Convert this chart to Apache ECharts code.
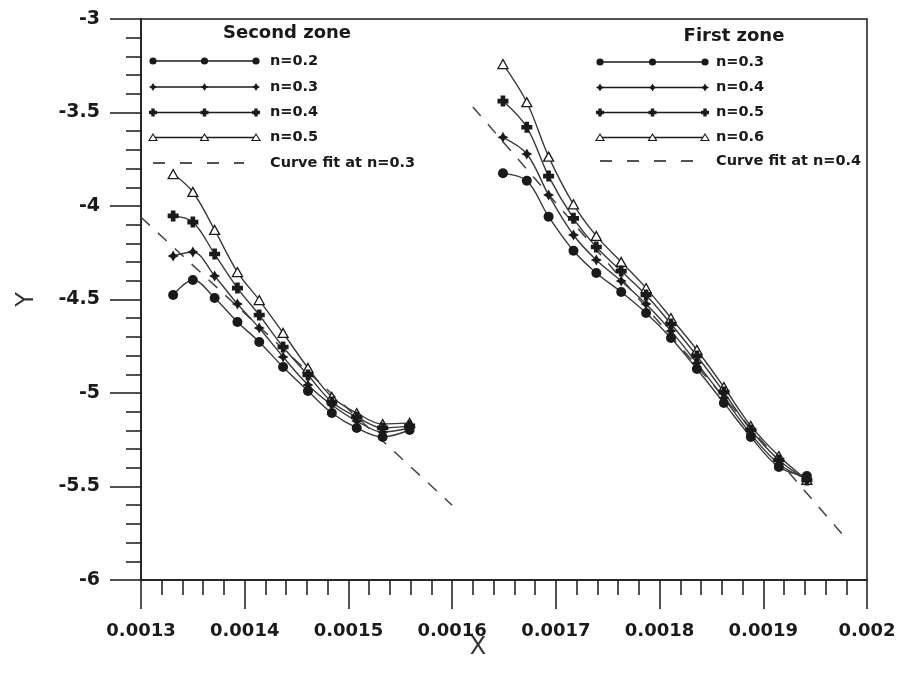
<!DOCTYPE html>
<html>
<head>
<meta charset="utf-8">
<title>Y versus X, first and second zones</title>
<script src="https://cdn.jsdelivr.net/npm/echarts@6/dist/echarts.min.js"></script>
<style>
  html, body { margin: 0; padding: 0; background: #fff; }
  #chart { width: 901px; height: 685px; }
</style>
</head>
<body>
<div id="chart"></div>
<script>
// ---- data ----
const xTickLabels = ['0.0013', '0.0014', '0.0015', '0.0016', '0.0017', '0.0018', '0.0019', '0.002'];
const yTickLabels = ['-6', '-5.5', '-5', '-4.5', '-4', '-3.5', '-3'];

// second zone
const xSecond = [0.001331, 0.001350, 0.001371, 0.001393, 0.001414, 0.001437, 0.001461, 0.001484, 0.001508, 0.001533, 0.001559];
const ySecondN02 = [-4.476, -4.396, -4.492, -4.620, -4.727, -4.861, -4.989, -5.107, -5.187, -5.235, -5.198];
const ySecondN03 = [-4.267, -4.246, -4.374, -4.524, -4.652, -4.807, -4.957, -5.064, -5.150, -5.209, -5.187];
const ySecondN04 = [-4.053, -4.086, -4.257, -4.439, -4.583, -4.754, -4.904, -5.048, -5.128, -5.187, -5.176];
const ySecondN05 = [-3.829, -3.925, -4.128, -4.353, -4.503, -4.679, -4.866, -5.021, -5.107, -5.166, -5.160];
const fitSecondX = [0.0013, 0.0016];
const fitSecondY = [-4.06, -5.60];

// first zone
const xFirst = [0.001649, 0.001672, 0.001693, 0.001717, 0.001739, 0.001763, 0.001787, 0.001811, 0.001836, 0.001862, 0.001888, 0.001915, 0.001942];
const yFirstN03 = [-3.825, -3.865, -4.057, -4.239, -4.358, -4.460, -4.572, -4.706, -4.872, -5.053, -5.235, -5.396, -5.444];
const yFirstN04 = [-3.633, -3.722, -3.941, -4.155, -4.289, -4.401, -4.524, -4.668, -4.840, -5.027, -5.219, -5.380, -5.460];
const yFirstN05 = [-3.439, -3.579, -3.840, -4.066, -4.219, -4.348, -4.476, -4.631, -4.802, -4.995, -5.198, -5.358, -5.465];
const yFirstN06 = [-3.241, -3.445, -3.736, -3.991, -4.160, -4.299, -4.439, -4.599, -4.770, -4.968, -5.176, -5.337, -5.465];
const fitFirstX = [0.00162, 0.00198];
const fitFirstY = [-3.47, -5.78];

// ---- styling ----
const INK = '#1a1a1a';
const LINE = '#3a3a3a';
const FONT = '"DejaVu Sans", "Liberation Sans", sans-serif';
const X_MIN = 0.0013, X_MAX = 0.002, X_STEP = 0.0001;
const Y_MIN = -6, Y_MAX = -3, Y_STEP = 0.5;

// marker outlines in a 10x10 box
const STAR_PTS = [[5,0],[6.8,3.2],[10,5],[6.8,6.8],[5,10],[3.2,6.8],[0,5],[3.2,3.2]];
const PLUS_PTS = [[2.9,0],[7.1,0],[7.1,2.9],[10,2.9],[10,7.1],[7.1,7.1],[7.1,10],[2.9,10],[2.9,7.1],[0,7.1],[0,2.9],[2.9,2.9]];
const toPath = pts => 'path://M' + pts.map(p => p.join(',')).join('L') + 'Z';

const MARK = {
  circle: { symbol: 'circle', size: 10, item: { color: INK } },
  star:   { symbol: toPath(STAR_PTS), size: 11, item: { color: INK } },
  plus:   { symbol: toPath(PLUS_PTS), size: 11, item: { color: INK } },
  tri:    { symbol: 'triangle', size: [10, 9], item: { color: '#fff', borderColor: INK, borderWidth: 1.3 } }
};

const zip = (xs, ys) => xs.map((x, i) => [x, ys[i]]);

function curve(name, xs, ys, kind) {
  const m = MARK[kind];
  return {
    type: 'line', name: name, data: zip(xs, ys),
    smooth: 0.35, showAllSymbol: true,
    symbol: m.symbol, symbolSize: m.size,
    lineStyle: { color: LINE, width: 1.4 },
    itemStyle: m.item,
    z: 3
  };
}

function fit(name, xs, ys) {
  return {
    type: 'line', name: name, data: zip(xs, ys),
    symbol: 'none',
    lineStyle: { color: '#444', width: 1.5, type: [12, 11] },
    z: 2
  };
}

// ---- legend blocks drawn as graphics ----
function legendMark(kind, cx, cy) {
  const s = 8;
  if (kind === 'circle') {
    return { type: 'circle', shape: { cx: cx, cy: cy, r: 3.6 }, style: { fill: INK } };
  }
  if (kind === 'tri') {
    return { type: 'polygon', shape: { points: [[cx, cy - 3.5], [cx + 4, cy + 3], [cx - 4, cy + 3]] },
             style: { fill: '#fff', stroke: INK, lineWidth: 1.1 } };
  }
  const pts = (kind === 'star' ? STAR_PTS : PLUS_PTS).map(p => [cx + (p[0] - 5) * s / 10, cy + (p[1] - 5) * s / 10]);
  return { type: 'polygon', shape: { points: pts }, style: { fill: INK } };
}

function legendBlock(title, titleX, titleY, x0, x1, textX, rows, fitLabel, rowYs) {
  const els = [];
  els.push({ type: 'text', x: titleX, y: titleY,
             style: { text: title, font: 'bold 18px ' + FONT, fill: INK, align: 'center', verticalAlign: 'middle' } });
  rows.forEach((r, i) => {
    const y = rowYs[i];
    els.push({ type: 'line', shape: { x1: x0, y1: y, x2: x1, y2: y }, style: { stroke: INK, lineWidth: 1.5 } });
    [x0, (x0 + x1) / 2, x1].forEach(cx => els.push(legendMark(r.kind, cx, y)));
    els.push({ type: 'text', x: textX, y: y,
               style: { text: r.label, font: 'bold 14.5px ' + FONT, fill: INK, align: 'left', verticalAlign: 'middle' } });
  });
  const fy = rowYs[rows.length];
  els.push({ type: 'line', shape: { x1: x0, y1: fy, x2: x1 - 12, y2: fy },
             style: { stroke: INK, lineWidth: 1.5, lineDash: [12, 15] } });
  els.push({ type: 'text', x: textX, y: fy,
             style: { text: fitLabel, font: 'bold 14.5px ' + FONT, fill: INK, align: 'left', verticalAlign: 'middle' } });
  return els;
}

const secondRows = [
  { label: 'n=0.2', kind: 'circle' },
  { label: 'n=0.3', kind: 'star' },
  { label: 'n=0.4', kind: 'plus' },
  { label: 'n=0.5', kind: 'tri' }
];
const firstRows = [
  { label: 'n=0.3', kind: 'circle' },
  { label: 'n=0.4', kind: 'star' },
  { label: 'n=0.5', kind: 'plus' },
  { label: 'n=0.6', kind: 'tri' }
];

const chart = echarts.init(document.getElementById('chart'), null, { renderer: 'canvas' });

chart.setOption({
  animation: false,
  backgroundColor: '#fff',
  grid: { left: 141, right: 34, top: 19, bottom: 105, show: true, borderColor: INK, borderWidth: 1.5, backgroundColor: 'transparent' },
  xAxis: {
    type: 'value', min: X_MIN, max: X_MAX, interval: X_STEP,
    axisLine: { show: true, onZero: false, lineStyle: { color: INK, width: 1.5 } },
    axisTick: { show: true, inside: false, length: 29, lineStyle: { color: INK, width: 1.5 } },
    minorTick: { show: true, splitNumber: 5, length: 15, lineStyle: { color: INK, width: 1.5 } },
    splitLine: { show: false },
    axisLabel: {
      margin: 42, color: INK, fontFamily: FONT, fontWeight: 'bold', fontSize: 18,
      formatter: v => xTickLabels[Math.round((v - X_MIN) / X_STEP)]
    }
  },
  yAxis: {
    type: 'value', min: Y_MIN, max: Y_MAX, interval: Y_STEP,
    name: 'Y', nameLocation: 'middle', nameGap: 102,
    nameTextStyle: { color: '#333', fontFamily: FONT, fontSize: 24 },
    axisLine: { show: true, onZero: false, lineStyle: { color: INK, width: 1.5 } },
    axisTick: { show: true, inside: false, length: 31, lineStyle: { color: INK, width: 1.5 } },
    minorTick: { show: true, splitNumber: 5, length: 15, lineStyle: { color: INK, width: 1.5 } },
    splitLine: { show: false },
    axisLabel: {
      margin: 41, color: INK, fontFamily: FONT, fontWeight: 'bold', fontSize: 19,
      formatter: v => yTickLabels[Math.round((v - Y_MIN) / Y_STEP)]
    }
  },
  graphic: [
    { type: 'text', x: 478, y: 648,
      style: { text: 'X', font: '24px ' + FONT, fill: '#333', align: 'center', verticalAlign: 'middle' } },
    ...legendBlock('Second zone', 287, 33, 153, 256, 270, secondRows, 'Curve fit at n=0.3', [61, 87, 112.5, 137.5, 163]),
    ...legendBlock('First zone', 734, 36, 600, 705, 716, firstRows, 'Curve fit at n=0.4', [62, 87.5, 112.5, 137.5, 161])
  ],
  series: [
    fit('Curve fit at n=0.3', fitSecondX, fitSecondY),
    curve('n=0.5 (second)', xSecond, ySecondN05, 'tri'),
    curve('n=0.4 (second)', xSecond, ySecondN04, 'plus'),
    curve('n=0.3 (second)', xSecond, ySecondN03, 'star'),
    curve('n=0.2 (second)', xSecond, ySecondN02, 'circle'),
    fit('Curve fit at n=0.4', fitFirstX, fitFirstY),
    curve('n=0.6 (first)', xFirst, yFirstN06, 'tri'),
    curve('n=0.5 (first)', xFirst, yFirstN05, 'plus'),
    curve('n=0.4 (first)', xFirst, yFirstN04, 'star'),
    curve('n=0.3 (first)', xFirst, yFirstN03, 'circle')
  ]
});
</script>
</body>
</html>
